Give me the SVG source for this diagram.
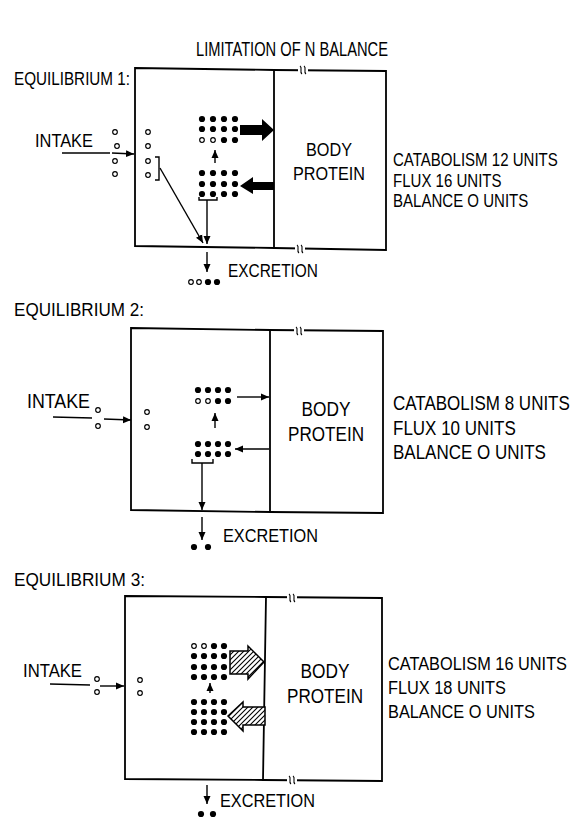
<svg xmlns="http://www.w3.org/2000/svg" width="576" height="819" viewBox="0 0 576 819">
<style>
text{font-family:"Liberation Sans",Arial,sans-serif;fill:#000}
.t{font-size:18px}
.box{fill:none;stroke:#000;stroke-width:1.8}
.ln{fill:none;stroke:#000;stroke-width:1.4}
.f{fill:#000}
.o{fill:#fff;stroke:#000;stroke-width:1.2}
.brk{fill:none;stroke:#000;stroke-width:1.1}
.hat{fill:url(#hatch);stroke:#000;stroke-width:1.5}
</style>
<defs>
<marker id="ah" markerUnits="userSpaceOnUse" markerWidth="9" markerHeight="8" refX="8" refY="4" orient="auto"><path d="M0,0.5 L8,4 L0,7.5 z" fill="#000"/></marker>
<pattern id="hatch" patternUnits="userSpaceOnUse" width="5" height="5"><rect width="5" height="5" fill="#fff"/><path d="M0,5 L5,0 M-1,1 L1,-1 M4,6 L6,4" stroke="#000" stroke-width="1.1"/></pattern>
<g id="bm"><rect x="-5" y="-2" width="10" height="4" fill="#fff"/><path class="brk" d="M-3,-4 C0,-2 -4,2 -1,4 M1,-4 C4,-2 0,2 3,4"/></g>
<circle id="d" r="3.1" class="f"/>
<circle id="c" r="2.3" class="o"/>
</defs>

<text x="292" y="56" text-anchor="middle" font-size="21" textLength="192" lengthAdjust="spacingAndGlyphs">LIMITATION OF N BALANCE</text>

<!-- Panel 1 -->
<g id="panel1">
<text x="14" y="85" class="t" textLength="116" lengthAdjust="spacingAndGlyphs">EQUILIBRIUM 1:</text>
<g id="p1-left"><path class="box" d="M135,68 L274,70 L274,248 L135,246 Z"/></g>
<g id="p1-body"><path class="box" d="M274,70 L386,71 L386,250 L274,248"/>
<use href="#bm" x="303" y="70"/><use href="#bm" x="300" y="249"/>
<text x="329" y="156" text-anchor="middle" font-size="19" textLength="46" lengthAdjust="spacingAndGlyphs">BODY</text>
<text x="329" y="180" text-anchor="middle" font-size="19" textLength="72" lengthAdjust="spacingAndGlyphs">PROTEIN</text></g>
<g id="p1-intake"><text x="35" y="147" class="t" textLength="58" lengthAdjust="spacingAndGlyphs">INTAKE</text>
<use href="#c" x="115" y="132"/><use href="#c" x="117" y="146"/><use href="#c" x="115" y="161"/><use href="#c" x="115" y="174"/></g>
<g id="p1-pool">
<use href="#c" x="148" y="132"/><use href="#c" x="148" y="146"/><use href="#c" x="148" y="161"/><use href="#c" x="148" y="175"/>
<path class="ln" d="M155,157 H159 V180 H155"/>
</g>
<g id="p1-top">
<use href="#d" x="202" y="119"/><use href="#d" x="213" y="119"/><use href="#d" x="224" y="119"/><use href="#d" x="235" y="119"/>
<use href="#d" x="202" y="129"/><use href="#d" x="213" y="129"/><use href="#d" x="224" y="129"/><use href="#d" x="235" y="129"/>
<use href="#c" x="202" y="140"/><use href="#c" x="213" y="140"/><use href="#d" x="224" y="140"/><use href="#d" x="235" y="140"/>
</g>
<g id="p1-bottom">
<use href="#d" x="202" y="173"/><use href="#d" x="213" y="173"/><use href="#d" x="224" y="173"/><use href="#d" x="235" y="173"/>
<use href="#d" x="202" y="184"/><use href="#d" x="213" y="184"/><use href="#d" x="224" y="184"/><use href="#d" x="235" y="184"/>
<use href="#d" x="202" y="194"/><use href="#d" x="213" y="194"/><use href="#d" x="224" y="194"/><use href="#d" x="235" y="194"/>
<path class="ln" d="M199,197 V200 H217 V197"/>
</g>
<g id="p1-excretion"><text x="228" y="277" class="t" textLength="90" lengthAdjust="spacingAndGlyphs">EXCRETION</text>
<use href="#c" x="191" y="282"/><use href="#c" x="199" y="282"/><use href="#d" x="208" y="282"/><use href="#d" x="217" y="282"/></g>
<g id="p1-stats" font-size="18">
<text transform="translate(393,166) scale(0.835,1)">CATABOLISM 12 UNITS</text>
<text transform="translate(393,187) scale(0.835,1)">FLUX 16 UNITS</text>
<text transform="translate(393,207) scale(0.835,1)">BALANCE O UNITS</text></g>
</g>

<!-- Panel 2 -->
<g id="panel2">
<text x="14" y="316" font-size="19" textLength="130" lengthAdjust="spacingAndGlyphs">EQUILIBRIUM 2:</text>
<g id="p2-left"><path class="box" d="M131,328 L270,330 L270,512 L131,510 Z"/></g>
<g id="p2-body"><path class="box" d="M270,330 L383,331 L383,513 L270,512"/>
<use href="#bm" x="299" y="331"/>
<text x="326" y="416" text-anchor="middle" font-size="20" textLength="49" lengthAdjust="spacingAndGlyphs">BODY</text>
<text x="326" y="441" text-anchor="middle" font-size="20" textLength="76" lengthAdjust="spacingAndGlyphs">PROTEIN</text></g>
<g id="p2-intake"><text x="27" y="408" font-size="20" textLength="63" lengthAdjust="spacingAndGlyphs">INTAKE</text>
<use href="#c" x="98" y="410"/><use href="#c" x="98" y="426"/></g>
<g id="p2-pool"><use href="#c" x="147" y="412"/><use href="#c" x="147" y="427"/></g>
<g id="p2-top">
<use href="#d" x="198" y="390"/><use href="#d" x="208" y="390"/><use href="#d" x="218" y="390"/><use href="#d" x="228" y="390"/>
<use href="#c" x="198" y="401"/><use href="#c" x="208" y="401"/><use href="#d" x="218" y="401"/><use href="#d" x="228" y="401"/>
</g>
<g id="p2-bottom">
<use href="#d" x="198" y="444"/><use href="#d" x="208" y="444"/><use href="#d" x="218" y="444"/><use href="#d" x="228" y="444"/>
<use href="#d" x="198" y="454"/><use href="#d" x="208" y="454"/><use href="#d" x="218" y="454"/><use href="#d" x="228" y="454"/>
<path class="ln" d="M192,459 V463 H213 V459"/>
</g>
<g id="p2-excretion"><text x="223" y="542" font-size="19" textLength="95" lengthAdjust="spacingAndGlyphs">EXCRETION</text>
<use href="#d" x="194" y="547"/><use href="#d" x="208" y="547"/></g>
<g id="p2-stats" font-size="20">
<text transform="translate(393,410) scale(0.85,1)">CATABOLISM 8 UNITS</text>
<text transform="translate(393,435) scale(0.85,1)">FLUX 10 UNITS</text>
<text transform="translate(393,459) scale(0.85,1)">BALANCE O UNITS</text></g>
</g>

<!-- Panel 3 -->
<g id="panel3">
<text x="14" y="586" font-size="19" textLength="131" lengthAdjust="spacingAndGlyphs">EQUILIBRIUM 3:</text>
<g id="p3-left"><path class="box" d="M125,596 L266,597 L263,780 L125,779 Z"/></g>
<g id="p3-body"><path class="box" d="M266,597 L382,598 L382,781 L263,780"/>
<use href="#bm" x="292" y="598"/><use href="#bm" x="292" y="780"/>
<text x="325" y="678" text-anchor="middle" font-size="20" textLength="49" lengthAdjust="spacingAndGlyphs">BODY</text>
<text x="325" y="703" text-anchor="middle" font-size="20" textLength="76" lengthAdjust="spacingAndGlyphs">PROTEIN</text></g>
<g id="p3-intake"><text x="23" y="677" font-size="19" textLength="59" lengthAdjust="spacingAndGlyphs">INTAKE</text>
<use href="#c" x="97" y="679"/><use href="#c" x="97" y="692"/></g>
<g id="p3-pool"><use href="#c" x="140" y="680"/><use href="#c" x="140" y="693"/></g>
<g id="p3-top">
<use href="#c" x="194" y="646"/><use href="#c" x="204" y="646"/><use href="#d" x="214" y="646"/><use href="#d" x="224" y="646"/>
<use href="#d" x="194" y="656"/><use href="#d" x="204" y="656"/><use href="#d" x="214" y="656"/><use href="#d" x="224" y="656"/>
<use href="#d" x="194" y="667"/><use href="#d" x="204" y="667"/><use href="#d" x="214" y="667"/><use href="#d" x="224" y="667"/>
<use href="#d" x="194" y="677"/><use href="#d" x="204" y="677"/><use href="#d" x="214" y="677"/><use href="#d" x="224" y="677"/>
</g>
<g id="p3-bottom">
<use href="#d" x="194" y="702"/><use href="#d" x="204" y="702"/><use href="#d" x="214" y="702"/><use href="#d" x="224" y="702"/>
<use href="#d" x="194" y="712"/><use href="#d" x="204" y="712"/><use href="#d" x="214" y="712"/><use href="#d" x="224" y="712"/>
<use href="#d" x="194" y="722"/><use href="#d" x="204" y="722"/><use href="#d" x="214" y="722"/><use href="#d" x="224" y="722"/>
<use href="#d" x="194" y="732"/><use href="#d" x="204" y="732"/><use href="#d" x="214" y="732"/><use href="#d" x="224" y="732"/>
</g>
<g id="p3-excretion"><text x="220" y="807" font-size="19" textLength="95" lengthAdjust="spacingAndGlyphs">EXCRETION</text>
<use href="#d" x="201" y="814"/><use href="#d" x="213" y="814"/></g>
<g id="p3-stats" font-size="19">
<text transform="translate(388,670) scale(0.86,1)">CATABOLISM 16 UNITS</text>
<text transform="translate(388,694) scale(0.86,1)">FLUX 18 UNITS</text>
<text transform="translate(388,718) scale(0.86,1)">BALANCE O UNITS</text></g>
</g>

<!-- Connectors -->
<g id="connectors">
<path class="ln" d="M62,153 L110,153"/><path class="ln" d="M112,153 L134,154" marker-end="url(#ah)"/>
<path class="ln" d="M160,168 L203,243" marker-end="url(#ah)"/>
<polygon class="f" points="240,125 262,125 262,119 274,130 262,141 262,135 240,135"/>
<path class="ln" d="M215,163 L215,150" marker-end="url(#ah)"/>
<polygon class="f" points="274,182 253,182 253,177 240,186 253,194 253,190 274,190"/>
<path class="ln" d="M207,200 V244" marker-end="url(#ah)"/>
<path class="ln" d="M207,252 V272" marker-end="url(#ah)"/>

<path class="ln" d="M53,417 L92,418"/><path class="ln" d="M104,419 L131,420" marker-end="url(#ah)"/>
<path class="ln" d="M237,397 L269,397" marker-end="url(#ah)"/>
<path class="ln" d="M215,428 L215,413" marker-end="url(#ah)"/>
<path class="ln" d="M269,449 L235,449" marker-end="url(#ah)"/>
<path class="ln" d="M202,463 V510" marker-end="url(#ah)"/>
<path class="ln" d="M202,517 V540" marker-end="url(#ah)"/>

<path class="ln" d="M50,684 L90,685"/><path class="ln" d="M100,686 L124,686" marker-end="url(#ah)"/>
<polygon class="hat" points="230,651 248,651 248,646 264,662 248,679 248,674 230,674"/>
<path class="ln" d="M210,693 L210,683" marker-end="url(#ah)"/>
<polygon class="hat" points="228,716 243,702 243,707 265,707 265,725 243,725 243,731"/>
<path class="ln" d="M207,785 V804" marker-end="url(#ah)"/>
</g>
</svg>
